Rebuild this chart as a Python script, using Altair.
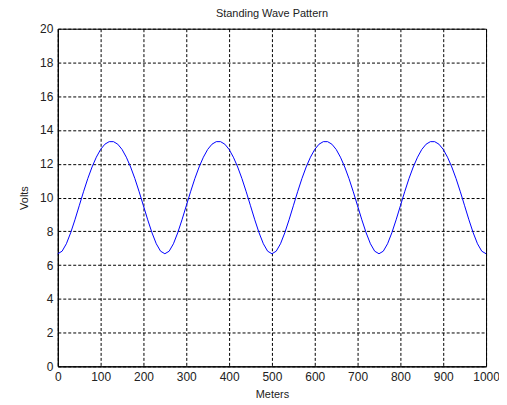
import altair as alt
import pandas as pd

# Distance along the line (m), sampled every 10 m
meters = list(range(0, 1001, 10))

# Voltage magnitude (V)
volts = [
    6.67, 6.82, 7.26, 7.91, 8.68, 9.51, 10.34, 11.12, 11.81, 12.39, 12.85, 13.16, 13.31,
    13.31, 13.16, 12.85, 12.39, 11.81, 11.12, 10.34, 9.51, 8.68, 7.91, 7.26, 6.82,
    6.67, 6.82, 7.26, 7.91, 8.68, 9.51, 10.34, 11.12, 11.81, 12.39, 12.85, 13.16, 13.31,
    13.31, 13.16, 12.85, 12.39, 11.81, 11.12, 10.34, 9.51, 8.68, 7.91, 7.26, 6.82,
    6.67, 6.82, 7.26, 7.91, 8.68, 9.51, 10.34, 11.12, 11.81, 12.39, 12.85, 13.16, 13.31,
    13.31, 13.16, 12.85, 12.39, 11.81, 11.12, 10.34, 9.51, 8.68, 7.91, 7.26, 6.82,
    6.67, 6.82, 7.26, 7.91, 8.68, 9.51, 10.34, 11.12, 11.81, 12.39, 12.85, 13.16, 13.31,
    13.31, 13.16, 12.85, 12.39, 11.81, 11.12, 10.34, 9.51, 8.68, 7.91, 7.26, 6.82,
    6.67,
]

x_ticks = [0, 100, 200, 300, 400, 500, 600, 700, 800, 900, 1000]
y_ticks = [0, 2, 4, 6, 8, 10, 12, 14, 16, 18, 20]

df = pd.DataFrame({"Meters": meters, "Volts": volts})

FONT = "Liberation Sans"
TXT = "#222222"

chart = (
    alt.Chart(df, title=alt.TitleParams(
        "Standing Wave Pattern", fontSize=11, font=FONT, fontWeight="normal",
        color=TXT, offset=4, anchor="middle", frame="group"))
    .mark_line(color="#0000ff", strokeWidth=1)
    .encode(
        x=alt.X("Meters:Q",
                scale=alt.Scale(domain=[0, 1000], nice=False, zero=False),
                axis=alt.Axis(values=x_ticks, title="Meters", format="d",
                              labelFlush=False, labelOverlap=False)),
        y=alt.Y("Volts:Q",
                scale=alt.Scale(domain=[0, 20], nice=False),
                axis=alt.Axis(values=y_ticks, title="Volts", format="d",
                              labelOverlap=False)),
    )
    .properties(
        width=430,
        height=339,
        autosize=alt.AutoSizeParams(type="none"),
        padding={"left": 50, "top": 20, "right": 13, "bottom": 36},
        background="white",
    )
    .configure_view(stroke="black", strokeWidth=1)
    .configure_axis(
        domainColor="black",
        domainWidth=1,
        grid=True,
        gridColor="black",
        gridOpacity=1,
        gridWidth=1,
        gridDash=[3, 2],
        ticks=False,
        labelFont=FONT,
        labelFontSize=12,
        labelColor=TXT,
        labelPadding=5,
        titleFont=FONT,
        titleFontSize=11,
        titleFontWeight="normal",
        titleColor=TXT,
    )
    .configure_axisX(titlePadding=6)
    .configure_axisY(titlePadding=10)
)

chart.save("out.html", embed_options={"renderer": "svg", "actions": False})
